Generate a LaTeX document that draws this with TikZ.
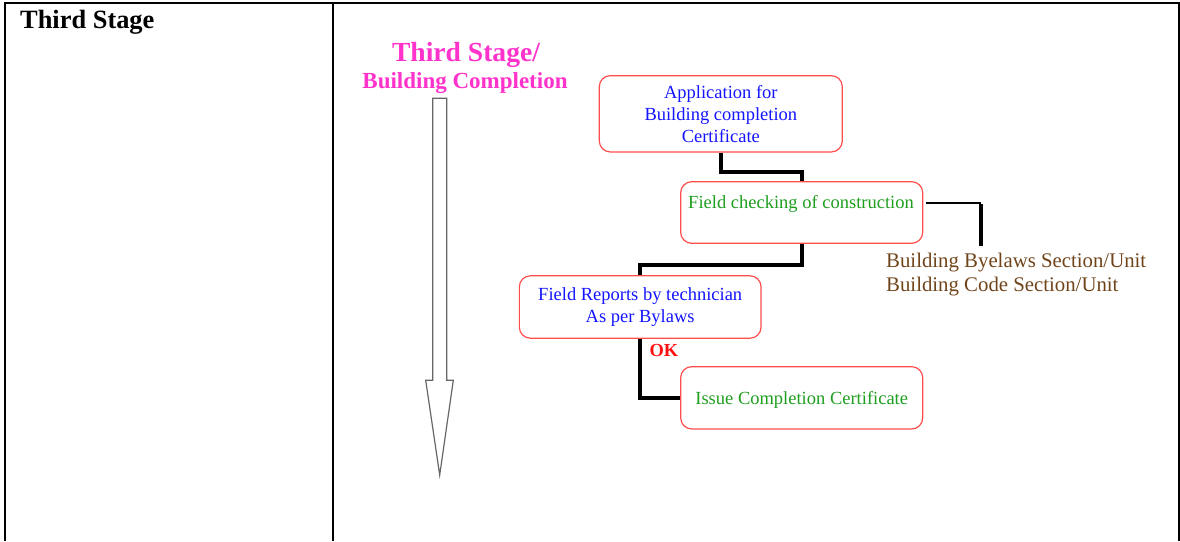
\documentclass[tikz,border=0pt]{standalone}
\usepackage{fontspec}
\setmainfont{Liberation Serif}
\definecolor{pinkc}{HTML}{FF33CC}
\definecolor{bluec}{HTML}{1414FF}
\definecolor{greenc}{HTML}{1E9E1E}
\definecolor{brownc}{HTML}{70441A}
\definecolor{boxred}{HTML}{FF4D4D}
\definecolor{okred}{HTML}{FF1010}
\tikzset{
  stagebox/.style={draw=boxred, line width=1.2pt, rounded corners=11pt, inner sep=0pt, align=center,
    font=\fontsize{18.5}{22}\selectfont},
  conn/.style={line width=4pt, draw=black, line cap=butt, line join=miter},
  thinconn/.style={line width=2pt, draw=black},
  border/.style={line width=2.5pt, draw=black},
}
\begin{document}
\begin{tikzpicture}[x=1pt, y=-1pt]
\useasboundingbox (0,0) rectangle (1180,541);
% table frame
\draw[border] (5,541) -- (5,3.2) -- (1179,3.2) -- (1179,541);
\draw[line width=2pt] (333.3,3.2) -- (333.3,541);
\node[anchor=base west, inner sep=0pt, font=\fontsize{26.4}{30}\selectfont\bfseries] (hdr) at (20,28.3) {Third Stage};
% pink title
\node[anchor=base, inner sep=0pt, text=pinkc, font=\fontsize{27.6}{30}\selectfont\bfseries] (t1) at (466,61) {Third Stage/};
\node[anchor=base, inner sep=0pt, text=pinkc, font=\fontsize{23}{26}\selectfont\bfseries] (t2) at (465,88) {Building Completion};
% big down arrow
\draw[draw=black!60, line width=1.2pt, fill=white, line join=miter]
  (432.7,98.3) -- (446.7,98.3) -- (446.7,380.3) -- (453.3,380.3) -- (439.7,475)
  -- (425.7,380.3) -- (432.7,380.3) -- cycle;
% boxes
\node[stagebox, text=bluec, minimum width=243pt, minimum height=76.3pt] (b1) at (720.8,113.8)
  {Application for\\Building completion\\Certificate};
\node[stagebox, minimum width=242pt, minimum height=61.6pt] (b2) at (801.7,212.5) {};
\node[anchor=base, inner sep=0pt, text=greenc, font=\fontsize{18.5}{22}\selectfont] (b2t) at (801,208) {Field checking of construction};
\node[stagebox, text=bluec, minimum width=241.7pt, minimum height=62.4pt] (b3) at (640.2,307)
  {Field Reports by technician\\As per Bylaws};
\node[stagebox, text=greenc, minimum width=242pt, minimum height=62.3pt, text depth=0pt] (b4) at (801.7,397.8)
  {Issue Completion Certificate};
% brown units text
\node[anchor=base west, inner sep=0pt, text=brownc, font=\fontsize{20.8}{24.7}\selectfont, align=left] (units) at (886,291.7)
  {Building Byelaws Section/Unit\\Building Code Section/Unit};
% connectors
\draw[conn] (b1.south) -- ++(0,19.7) -| (b2.north);
\draw[conn] (b2.south) -- ++(0,20.8) -| (b3.north);
\draw[conn] (b3.south) |- (b4.west);
\coordinate (k) at (981,203);
\draw[thinconn] ([xshift=3pt]b2.east |- k) -- (k);
\draw[conn] ([yshift=-1pt]k) -- ++(0,42);
% OK label
\node[anchor=base west, inner sep=0pt, text=okred, font=\fontsize{18.4}{22}\selectfont\bfseries] (ok) at (649.3,356.7) {OK};
\end{tikzpicture}
\end{document}
